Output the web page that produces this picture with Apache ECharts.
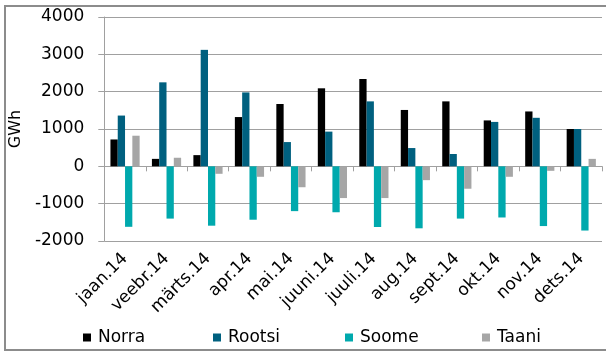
<!DOCTYPE html>
<html><head><meta charset="utf-8">
<script src="https://cdn.jsdelivr.net/npm/echarts@6/dist/echarts.min.js"></script>
<style>html,body{margin:0;padding:0;background:#fff}#c{width:606px;height:352px}</style>
</head><body><div id="c"></div>
<script>
var categories = ['jaan.14','veebr.14','märts.14','apr.14','mai.14','juuni.14','juuli.14','aug.14','sept.14','okt.14','nov.14','dets.14'];
var norra  = [720, 200, 300, 1320, 1670, 2090, 2340, 1510, 1740, 1230, 1470, 1000];
var rootsi = [1360, 2250, 3120, 1980, 650, 930, 1740, 490, 330, 1190, 1300, 1000];
var soome  = [-1620, -1400, -1590, -1430, -1200, -1230, -1625, -1660, -1400, -1370, -1600, -1720];
var taani  = [820, 230, -200, -280, -560, -850, -850, -370, -600, -280, -120, 200];
var yTicks = [-2000, -1000, 0, 1000, 2000, 3000, 4000];
var seriesNames = ['Norra', 'Rootsi', 'Soome', 'Taani'];
var seriesColors = ['#000000', '#00607f', '#00a9ad', '#a6a6a6'];

var font = 'DejaVu Sans';
var chart = echarts.init(document.getElementById('c'), null, {renderer: 'canvas'});
var dataSets = [norra, rootsi, soome, taani];
var legendLeft = [78, 208, 340, 477];
var legends = seriesNames.map(function (n, i) {
  return {
    data: [n], left: legendLeft[i], top: 324, itemWidth: 8, itemHeight: 8, itemGap: 0,
    icon: 'rect', textStyle: {fontFamily: font, fontSize: 17, color: '#000', padding: [0, 0, 0, 2]}
  };
});
chart.setOption({
  animation: false,
  graphic: [{type: 'rect', shape: {x: 5, y: 6, width: 610, height: 344}, style: {fill: 'none', stroke: '#8c8c8c', lineWidth: 2}, z: -1}],
  legend: legends,
  grid: {left: 101, right: 4, top: 17, bottom: 111, containLabel: false},
  xAxis: {
    type: 'category', data: categories,
    axisLine: {show: true, onZero: true, lineStyle: {color: '#a0a0a0', width: 1}},
    axisTick: {show: true, length: 5, lineStyle: {color: '#a0a0a0'}},
    axisLabel: {rotate: 45, fontFamily: font, fontSize: 17, color: '#000', margin: 15, interval: 0}
  },
  yAxis: {
    type: 'value', min: yTicks[0], max: yTicks[yTicks.length - 1], interval: 1000,
    name: 'GWh', nameLocation: 'middle', nameGap: 78, nameRotate: 90,
    nameTextStyle: {fontFamily: font, fontSize: 16, color: '#000'},
    axisLine: {show: true, lineStyle: {color: '#a0a0a0'}},
    axisTick: {show: true, length: 6, lineStyle: {color: '#a0a0a0'}},
    splitLine: {lineStyle: {color: '#a0a0a0', width: 1}},
    axisLabel: {fontFamily: font, fontSize: 17, color: '#000', margin: 20, formatter: function (v) { return String(v); }}
  },
  series: seriesNames.map(function (n, i) {
    return {
      name: n, type: 'bar', data: dataSets[i], barWidth: 7.3, barGap: '0%',
      itemStyle: {color: seriesColors[i]}
    };
  })
});
</script></body></html>
